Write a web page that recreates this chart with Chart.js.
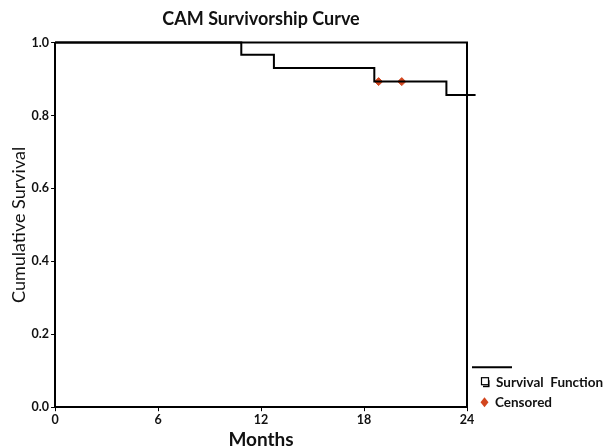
<!DOCTYPE html>
<html>
<head>
<meta charset="utf-8">
<script src="https://cdn.jsdelivr.net/npm/chart.js@4.4.0/dist/chart.umd.min.js"></script>
<style>
  html, body { margin: 0; padding: 0; background: #fff; }
  #wrap { width: 605px; height: 447px; }
</style>
</head>
<body>
<div id="wrap"><canvas id="kmChart"></canvas></div>
<script>
// survival steps (months, cumulative survival)
const stepMonths = [0, 10.85, 12.75, 18.6, 22.8, 24.5];
const stepSurvival = [1.0, 0.967, 0.930, 0.893, 0.856, 0.856];
// censored cases
const censoredMonths = [18.85, 20.2];
const censoredSurvival = [0.893, 0.893];
const xTicks = [0, 6, 12, 18, 24];

const FONT = 'Lato, "Open Sans", sans-serif';
const censorColor = '#d2461e';

// top + right frame lines and the SPSS-style legend
const framePlugin = {
    id: 'frameAndLegend',
    afterDraw(chart) {
        const { ctx, chartArea: a } = chart;
        ctx.save();
        ctx.strokeStyle = '#000';
        ctx.lineWidth = 2;
        ctx.beginPath();
        ctx.moveTo(a.left, a.top);
        ctx.lineTo(a.right, a.top);
        ctx.lineTo(a.right, a.bottom);
        ctx.stroke();

        // legend
        const lx = a.right + 5;
        ctx.beginPath();
        ctx.moveTo(lx, a.bottom - 40);
        ctx.lineTo(lx + 40, a.bottom - 40);
        ctx.stroke();

        ctx.lineWidth = 1.2;
        ctx.strokeRect(lx + 9.5, a.bottom - 29.5, 7, 7);
        ctx.fillStyle = '#000';
        ctx.fillRect(lx + 16, a.bottom - 27, 1.5, 6);
        ctx.fillRect(lx + 11, a.bottom - 21.5, 6.5, 1.5);

        ctx.fillStyle = censorColor;
        ctx.beginPath();
        const dy = a.bottom - 5;
        ctx.moveTo(lx + 12.5, dy - 5);
        ctx.lineTo(lx + 16.5, dy);
        ctx.lineTo(lx + 12.5, dy + 5);
        ctx.lineTo(lx + 8.5, dy);
        ctx.closePath();
        ctx.fill();

        ctx.fillStyle = '#111';
        ctx.font = 'bold 13.5px ' + FONT;
        ctx.textBaseline = 'middle';
        ctx.fillText('Survival  Function', lx + 24, a.bottom - 25);
        ctx.fillText('Censored', lx + 23, dy);
        ctx.restore();
    }
};

const ctx = document.getElementById('kmChart').getContext('2d');
new Chart(ctx, {
    type: 'scatter',
    data: {
        datasets: [{
            label: 'Survival Function',
            data: stepMonths.map((m, i) => ({ x: m, y: stepSurvival[i] })),
            showLine: true,
            stepped: true,
            borderColor: '#000',
            borderWidth: 2,
            pointRadius: 0,
            clip: false
        }, {
            label: 'Censored',
            data: censoredMonths.map((m, i) => ({ x: m, y: censoredSurvival[i] })),
            pointStyle: 'rectRot',
            pointRadius: 4,
            backgroundColor: censorColor,
            borderColor: censorColor
        }]
    },
    options: {
        responsive: true,
        maintainAspectRatio: false,
        animation: false,
        layout: { padding: { left: 8, right: 138, top: 2, bottom: 0 } },
        plugins: {
            legend: { display: false },
            tooltip: { enabled: false },
            title: {
                display: true,
                fullSize: false,
                text: 'CAM Survivorship Curve',
                color: '#111',
                font: { family: FONT, size: 18, weight: 'bold' },
                padding: { top: 6, bottom: 13 }
            }
        },
        scales: {
            x: {
                type: 'linear',
                min: 0,
                max: 24,
                afterBuildTicks: (axis) => { axis.ticks = xTicks.map(v => ({ value: v })); },
                grid: { drawOnChartArea: false, color: '#000', tickLength: 4 },
                border: { color: '#000', width: 2 },
                ticks: {
                    color: '#111',
                    padding: 1,
                    font: { family: FONT, size: 12.5, weight: 'bold' }
                },
                title: {
                    display: true,
                    text: 'Months',
                    color: '#111',
                    padding: { top: 0, bottom: -4 },
                    font: { family: FONT, size: 19, weight: 'bold' }
                }
            },
            y: {
                min: 0,
                max: 1,
                grid: { drawOnChartArea: false, color: '#000', tickLength: 4 },
                border: { color: '#000', width: 2 },
                ticks: {
                    stepSize: 0.2,
                    color: '#111',
                    padding: 2,
                    font: { family: FONT, size: 12.5, weight: 'bold' },
                    callback: (v) => v.toFixed(1)
                },
                title: {
                    display: true,
                    text: 'Cumulative Survival',
                    color: '#111',
                    padding: { top: 0, bottom: 0 },
                    font: { family: FONT, size: 18 }
                }
            }
        }
    },
    plugins: [framePlugin]
});
</script>
</body>
</html>
